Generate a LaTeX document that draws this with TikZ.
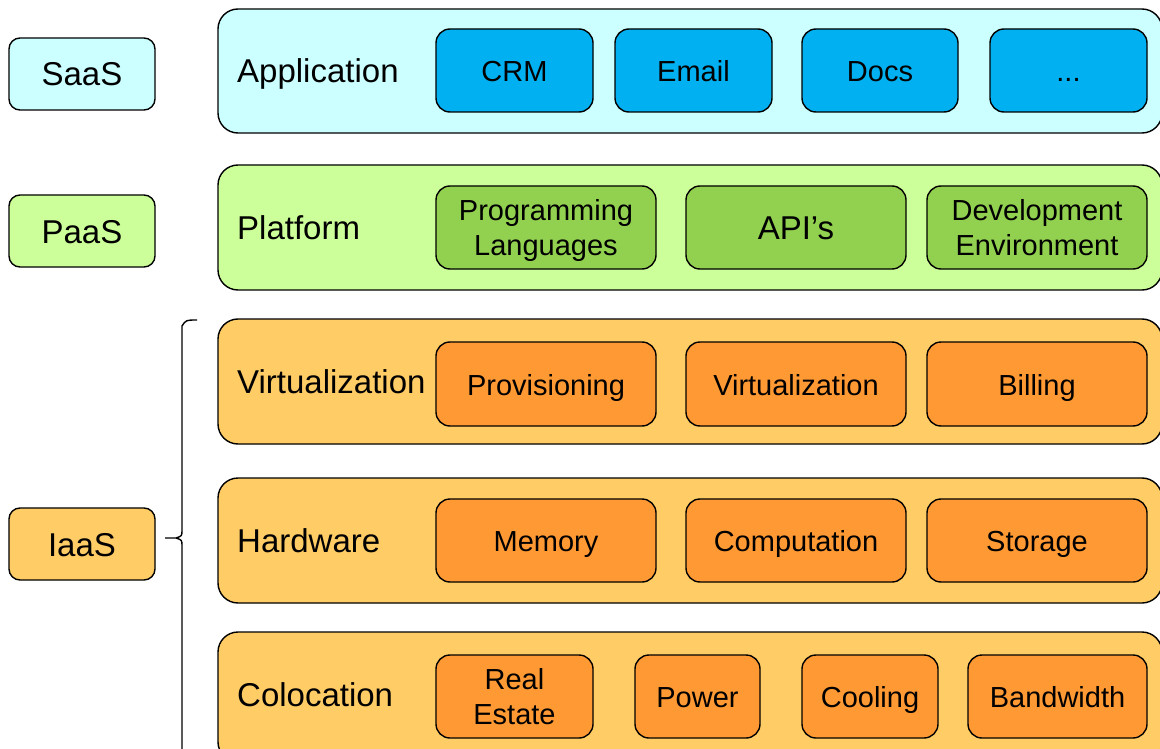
\documentclass[tikz,border=0pt]{standalone}
\usepackage{fontspec}
\setmainfont{Liberation Sans}
\definecolor{saasL}{HTML}{CCFFFF}
\definecolor{saasD}{HTML}{00B0F0}
\definecolor{paasL}{HTML}{CCFF99}
\definecolor{paasD}{HTML}{92D050}
\definecolor{iaasL}{HTML}{FFCC66}
\definecolor{iaasD}{HTML}{FF9933}
\begin{document}
\begin{tikzpicture}[x=1pt,y=-1pt,
  base/.style={draw=black, line width=1.4pt, inner sep=0pt, outer sep=0pt, anchor=north west},
  layer/.style={base, rounded corners=20pt, minimum width=944pt},
  item/.style={base, rounded corners=14pt, font=\fontsize{29}{35}\selectfont, align=center,
               text height=23pt, text depth=1pt, minimum height=83pt},
  twoline/.style={text height={}, text depth={}},
  tag/.style={base, rounded corners=11pt, font=\fontsize{33}{38}\selectfont,
              minimum width=146pt, minimum height=72pt, text height=25pt, text depth=1pt},
  ltext/.style={anchor=base west, inner sep=0pt, font=\fontsize{33}{38}\selectfont}]
\useasboundingbox (0,0) rectangle (1160,749);
\clip (0,0) rectangle (1160,749);
\fill[white] (0,0) rectangle (1160,749);

% left tags
\node[tag, fill=saasL] (saas) at (9,38) {SaaS};
\node[tag, fill=paasL] (paas) at (9,195) {PaaS};
\node[tag, fill=iaasL] (iaas) at (9,508) {IaaS};

% layers
\node[layer, fill=saasL, minimum height=124pt] (app) at (218,9) {};
\node[layer, fill=paasL, minimum height=125pt] (plat) at (218,165) {};
\node[layer, fill=iaasL, minimum height=125pt] (virt) at (218,319) {};
\node[layer, fill=iaasL, minimum height=125pt] (hard) at (218,478) {};
\node[layer, fill=iaasL, minimum height=130pt] (colo) at (218,632) {};

\node[ltext] (appT) at (237,83) {Application};
\node[ltext] (platT) at (237,239.5) {Platform};
\node[ltext] (virtT) at (237,393.5) {Virtualization};
\node[ltext] (hardT) at (237,552.5) {Hardware};
\node[ltext] (coloT) at (237,706.5) {Colocation};

% SaaS items
\node[item, fill=saasD, minimum width=157pt] (crm) at (436,29) {CRM};
\node[item, fill=saasD, minimum width=157pt] (email) at (615,29) {Email};
\node[item, fill=saasD, minimum width=156pt] (docs) at (802,29) {Docs};
\node[item, fill=saasD, minimum width=157pt] (more) at (990,29) {...};

% PaaS items
\node[item, twoline, fill=paasD, minimum width=220pt] (prog) at (436,186) {Programming\\\raisebox{0pt}[\height][0pt]{Languages}};
\node[item, fill=paasD, minimum width=220pt, font=\fontsize{33}{38}\selectfont,
      text height=26pt, text depth=1pt] (api) at (686,186) {API’s};
\node[item, twoline, fill=paasD, minimum width=220pt] (dev) at (927,186) {Development\\Environment};

% Virtualization items
\node[item, fill=iaasD, minimum width=220pt, minimum height=84pt] (prov) at (436,342) {Provisioning};
\node[item, fill=iaasD, minimum width=220pt, minimum height=84pt] (virtI) at (686,342) {Virtualization};
\node[item, fill=iaasD, minimum width=220pt, minimum height=84pt] (bill) at (927,342) {Billing};

% Hardware items
\node[item, fill=iaasD, minimum width=220pt] (mem) at (436,499) {Memory};
\node[item, fill=iaasD, minimum width=220pt] (comp) at (686,499) {Computation};
\node[item, fill=iaasD, minimum width=220pt] (stor) at (927,499) {Storage};

% Colocation items
\node[item, twoline, fill=iaasD, minimum width=157pt] (real) at (436,655) {Real\\Estate};
\node[item, fill=iaasD, minimum width=125pt] (power) at (635,655) {Power};
\node[item, fill=iaasD, minimum width=136pt] (cool) at (802,655) {Cooling};
\node[item, fill=iaasD, minimum width=179pt] (band) at (968,655) {Bandwidth};

% brace
\coordinate (btop) at (197,320);
\coordinate (btip) at (165,538);
\coordinate (bbot) at (182,760);
\draw[line width=1.4pt, line join=round]
  (btop) .. controls (186,320) .. (182,326) -- (182,530)
  .. controls (182,536) .. (176,538) -- (btip);
\draw[line width=1.4pt, line join=round]
  (176,538) .. controls (182,540) .. (182,546) -- (bbot);
\end{tikzpicture}
\end{document}
